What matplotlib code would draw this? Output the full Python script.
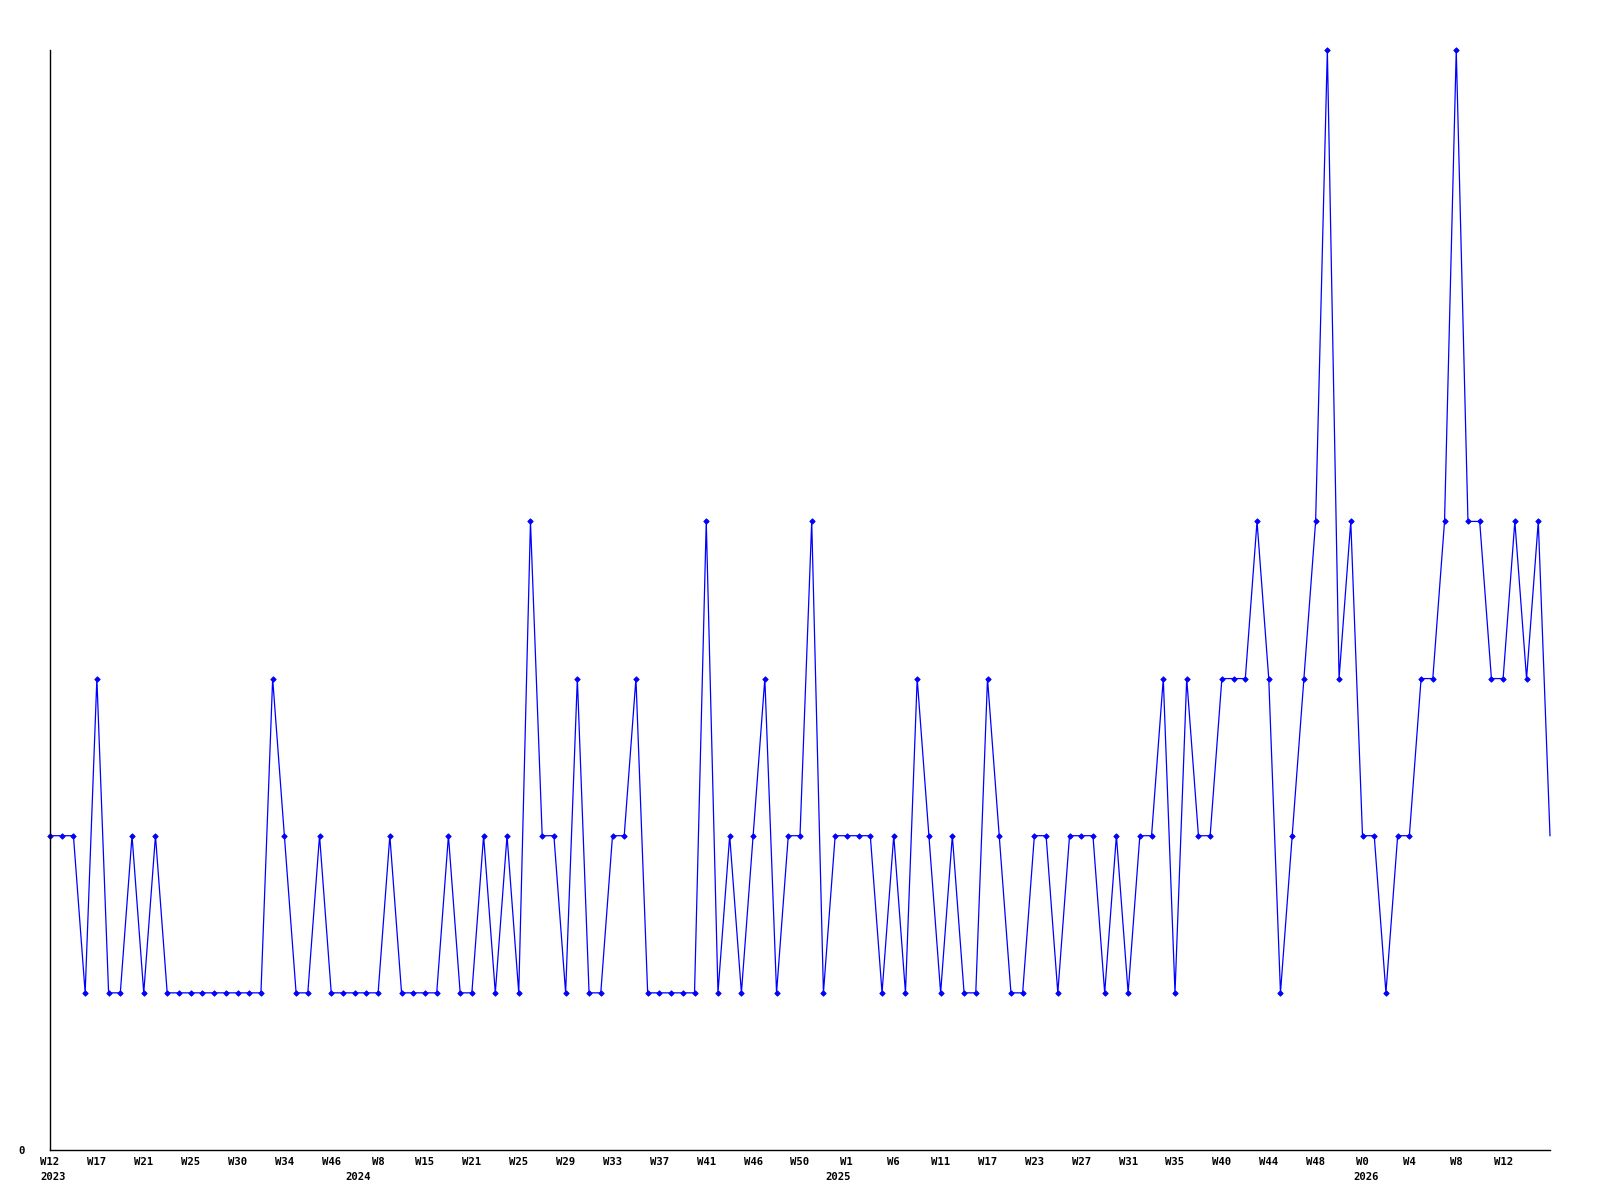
import matplotlib
matplotlib.use("Agg")
import matplotlib.pyplot as plt
import matplotlib.transforms as mtransforms

# Weekly values (one per week in the series, in order)
values = [
    2, 2, 2, 1, 3, 1, 1, 2, 1, 2,
    1, 1, 1, 1, 1, 1, 1, 1, 1, 3,
    2, 1, 1, 2, 1, 1, 1, 1, 1, 2,
    1, 1, 1, 1, 2, 1, 1, 2, 1, 2,
    1, 4, 2, 2, 1, 3, 1, 1, 2, 2,
    3, 1, 1, 1, 1, 1, 4, 1, 2, 1,
    2, 3, 1, 2, 2, 4, 1, 2, 2, 2,
    2, 1, 2, 1, 3, 2, 1, 2, 1, 1,
    3, 2, 1, 1, 2, 2, 1, 2, 2, 2,
    1, 2, 1, 2, 2, 3, 1, 3, 2, 2,
    3, 3, 3, 4, 3, 1, 2, 3, 4, 7,
    3, 4, 2, 2, 1, 2, 2, 3, 3, 4,
    7, 4, 4, 3, 3, 4, 3, 4, 2,
]

# Tick labels shown every 4th week
week_labels = ["W12", "W17", "W21", "W25", "W30", "W34", "W46", "W8",
               "W15", "W21", "W25", "W29", "W33", "W37", "W41", "W46",
               "W50", "W1", "W6", "W11", "W17", "W23", "W27", "W31",
               "W35", "W40", "W44", "W48", "W0", "W4", "W8", "W12"]
week_label_step = 4

# Year labels and the week index where each year starts
years = ["2023", "2024", "2025", "2026"]
year_index = [0, 26, 67, 112]

FONT = "DejaVu Sans Mono"

fig = plt.figure(figsize=(16, 12), dpi=100)
ax = fig.add_axes([50 / 1600, 50 / 1200, 1500 / 1600, 1100 / 1200])

x = list(range(len(values)))
ax.plot(x, values, color="#0000ff", linewidth=0.9, marker="D", markersize=2.8,
        markeredgewidth=0.6, markevery=list(range(len(values) - 1)),
        clip_on=False)

ax.set_xlim(0, len(values) - 1)
ax.set_ylim(0, 7)

for s in ["top", "right"]:
    ax.spines[s].set_visible(False)
for s in ["left", "bottom"]:
    ax.spines[s].set_linewidth(1.0)
    ax.spines[s].set_color("black")

ax.set_xticks(list(range(0, len(values), week_label_step))[:len(week_labels)])
ax.set_xticklabels(week_labels, fontfamily=FONT, fontweight="bold", fontsize=7.7)
ax.set_yticks([0])
ax.set_yticklabels(["0"], fontfamily=FONT, fontweight="bold", fontsize=7.7)
ax.tick_params(axis="x", length=0, pad=5)
ax.tick_params(axis="y", length=0, pad=18)

trans = mtransforms.blended_transform_factory(ax.transData, ax.transAxes)
trans = mtransforms.offset_copy(trans, fig=fig, x=3.3, y=0, units="dots")
for yr, idx in zip(years, year_index):
    ax.text(idx, 0, yr, transform=trans, ha="center", va="center",
            fontfamily=FONT, fontweight="bold", fontsize=7.7)
# position year labels below the week labels
for t in ax.texts:
    t.set_transform(mtransforms.offset_copy(
        mtransforms.blended_transform_factory(ax.transData, ax.transAxes),
        fig=fig, x=3.3, y=-27, units="dots"))

fig.savefig("out.png", dpi=100)
